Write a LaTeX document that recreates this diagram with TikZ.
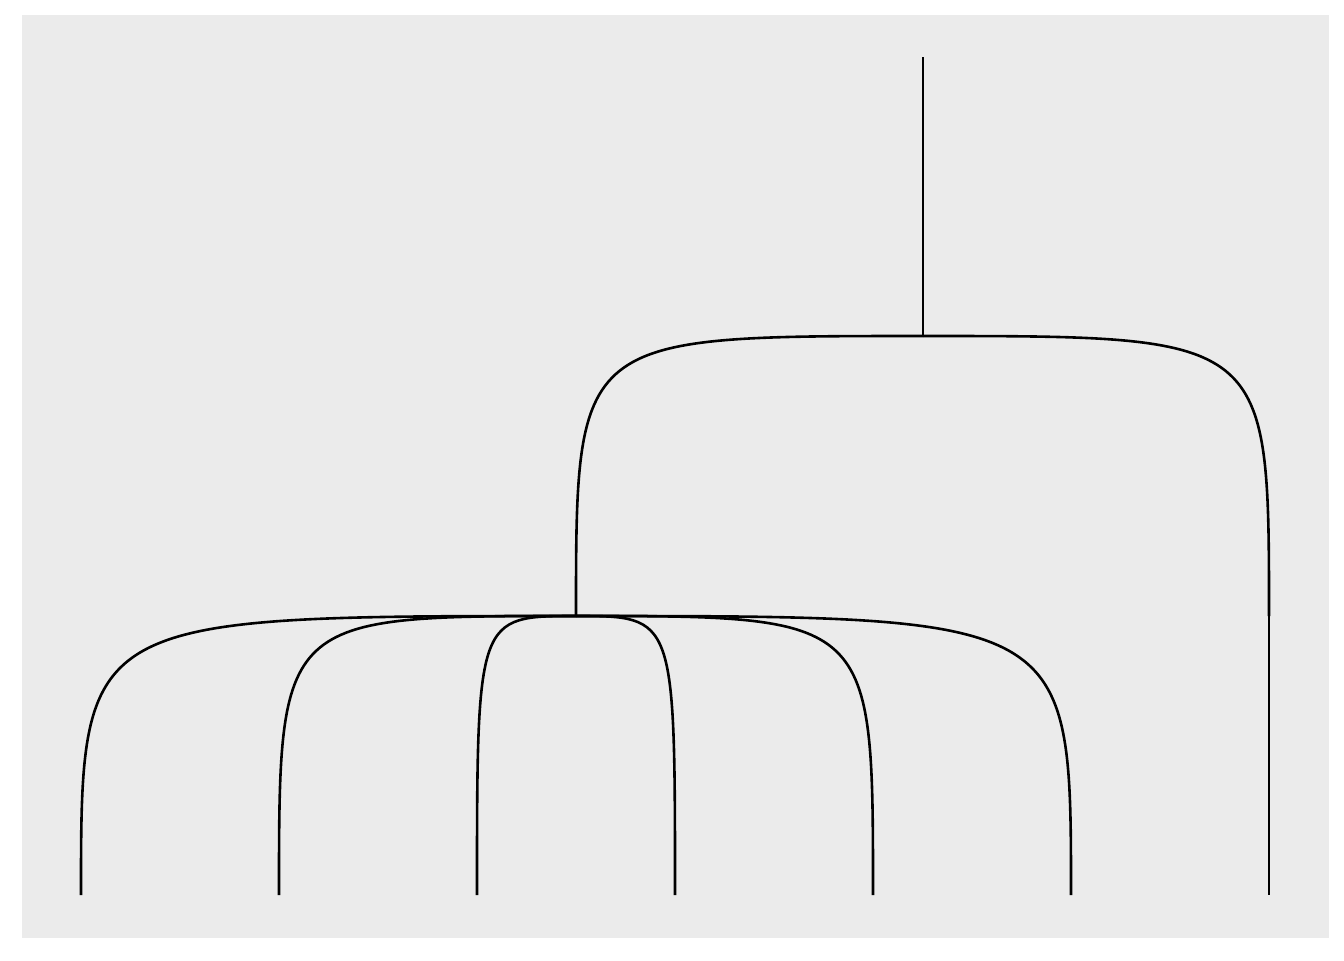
\documentclass[tikz,border=0pt]{standalone}
\usepackage{tikz}
\usepackage{xcolor}
\definecolor{panelgrey}{HTML}{EBEBEB}
\usetikzlibrary{calc}

\tikzset{
  edge/.style={black, line width=1.3pt},
  corner/.style={to path={.. controls (\tikztotarget|-\tikztostart) and (\tikztotarget|-\tikztostart) .. (\tikztotarget)}}
}

\begin{document}
\begin{tikzpicture}[x=0.5pt, y=-0.5pt]
  % canvas and grey panel
  \useasboundingbox[fill=white] (0,0) rectangle (1344,960);
  \fill[panelgrey] (22,15) rectangle (1329,938);

  % tree nodes
  \coordinate (top)   at (923,57);
  \coordinate (root)  at (923,336);
  \coordinate (inner) at (576,616);
  \coordinate (knee)  at (1269,616);
  \coordinate (l1) at (81,895);
  \coordinate (l2) at (279,895);
  \coordinate (l3) at (477,895);
  \coordinate (l4) at (675,895);
  \coordinate (l5) at (873,895);
  \coordinate (l6) at (1071,895);
  \coordinate (l7) at (1269,895);

  % root stub
  \draw[edge] (top) -- (root);

  % root to its two children
  \draw[edge] (root) to[corner] (inner);
  \draw[edge] (root) to[corner] (knee);
  \draw[edge] (knee) -- (l7);

  % inner node to the six leaves
  \foreach \leaf in {l1,l2,l3,l4,l5,l6}
    \draw[edge] (inner) to[corner] (\leaf);

\end{tikzpicture}
\end{document}
